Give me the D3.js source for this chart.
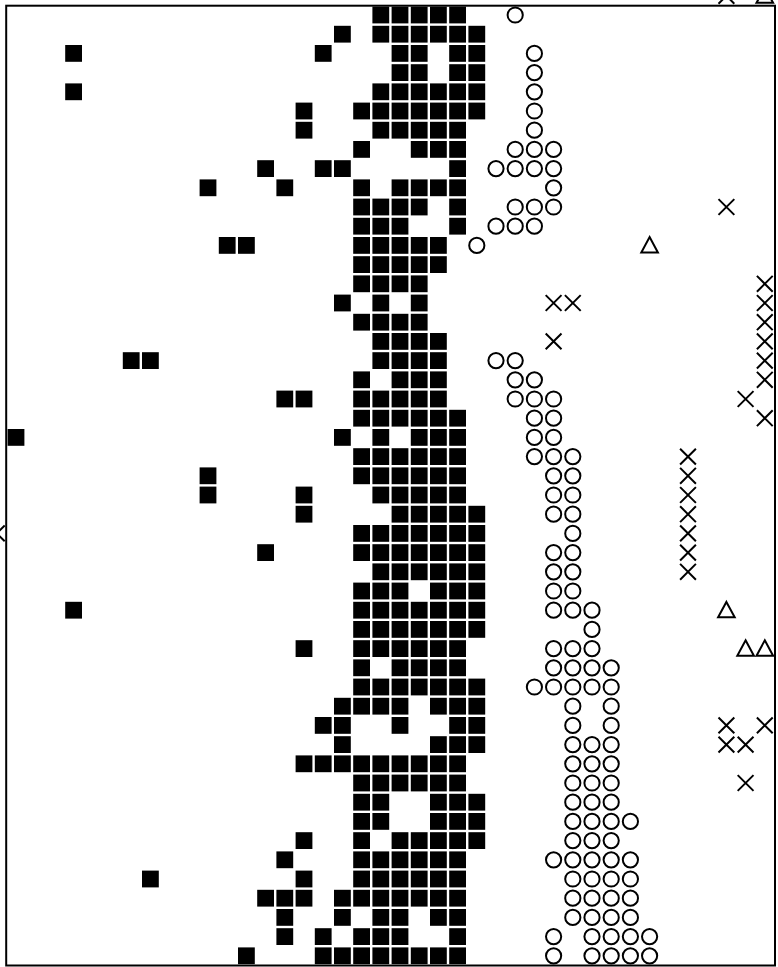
<!DOCTYPE html>
<html>
<head>
<meta charset="utf-8">
<script src="https://cdn.jsdelivr.net/npm/d3@7"></script>
<style>
  html, body { margin: 0; padding: 0; background: #fff; }
  svg { display: block; }
</style>
</head>
<body>
<div id="chart"></div>
<script>
// Filled squares: column indices for each row (row 0 at the top)
const squareCols = [
    [19, 20, 21, 22, 23],
    [17, 19, 20, 21, 22, 23, 24],
    [3, 16, 20, 21, 23, 24],
    [20, 21, 23, 24],
    [3, 19, 20, 21, 22, 23, 24],
    [15, 18, 19, 20, 21, 22, 23, 24],
    [15, 19, 20, 21, 22, 23],
    [18, 21, 22, 23],
    [13, 16, 17, 23],
    [10, 14, 18, 20, 21, 22, 23],
    [18, 19, 20, 21, 23],
    [18, 19, 20, 23],
    [11, 12, 18, 19, 20, 21, 22],
    [18, 19, 20, 21, 22],
    [18, 19, 20, 21],
    [17, 19, 21],
    [18, 19, 20, 21],
    [19, 20, 21, 22],
    [6, 7, 19, 20, 21, 22],
    [18, 20, 21, 22],
    [14, 15, 18, 19, 20, 21, 22],
    [18, 19, 20, 21, 22, 23],
    [0, 17, 19, 21, 22, 23],
    [18, 19, 20, 21, 22, 23],
    [10, 18, 19, 20, 21, 22, 23],
    [10, 15, 19, 20, 21, 22, 23],
    [15, 20, 21, 22, 23, 24],
    [18, 19, 20, 21, 22, 23, 24],
    [13, 18, 19, 20, 21, 22, 23, 24],
    [19, 20, 21, 22, 23, 24],
    [18, 19, 20, 22, 23, 24],
    [3, 18, 19, 20, 21, 22, 23, 24],
    [18, 19, 20, 21, 22, 23, 24],
    [15, 18, 19, 20, 21, 22, 23],
    [18, 20, 21, 22, 23],
    [18, 19, 20, 21, 22, 23, 24],
    [17, 18, 19, 20, 22, 23, 24],
    [16, 17, 20, 23, 24],
    [17, 22, 23, 24],
    [15, 16, 17, 18, 19, 20, 21, 22, 23],
    [18, 19, 20, 21, 22, 23],
    [18, 19, 22, 23, 24],
    [18, 19, 22, 23, 24],
    [15, 18, 20, 21, 22, 23, 24],
    [14, 18, 19, 20, 21, 22, 23],
    [7, 15, 18, 19, 20, 21, 22, 23],
    [13, 14, 15, 17, 18, 19, 20, 21, 22, 23],
    [14, 17, 19, 20, 22, 23],
    [14, 16, 18, 19, 20, 23],
    [12, 16, 17, 18, 19, 20, 21, 22, 23]
];

// Open circles: column indices for each row
const circleCols = [
    [26], [], [27], [27], [27], [27], [27],
    [26, 27, 28],
    [25, 26, 27, 28],
    [28],
    [26, 27, 28],
    [25, 26, 27],
    [24],
    [], [], [], [], [],
    [25, 26],
    [26, 27],
    [26, 27, 28],
    [27, 28],
    [27, 28],
    [27, 28, 29],
    [28, 29],
    [28, 29],
    [28, 29],
    [29],
    [28, 29],
    [28, 29],
    [28, 29],
    [28, 29, 30],
    [30],
    [28, 29, 30],
    [28, 29, 30, 31],
    [27, 28, 29, 30, 31],
    [29, 31],
    [29, 31],
    [29, 30, 31],
    [29, 30, 31],
    [29, 30, 31],
    [29, 30, 31],
    [29, 30, 31, 32],
    [29, 30, 31],
    [28, 29, 30, 31, 32],
    [29, 30, 31, 32],
    [29, 30, 31, 32],
    [29, 30, 31, 32],
    [28, 30, 31, 32, 33],
    [28, 30, 31, 32, 33]
];

// Crosses and triangles are sparse: [column, row]
const crossCells = [
    [37, -1], [37, 10], [39, 14], [28, 15], [29, 15], [39, 15], [39, 16],
    [28, 17], [39, 17], [39, 18], [39, 19], [38, 20], [39, 21],
    [35, 23], [35, 24], [35, 25], [35, 26], [35, 27], [-1, 27], [35, 28], [35, 29],
    [37, 37], [39, 37], [37, 38], [38, 38], [38, 40]
];
const triangleCells = [[39, -1], [33, 12], [37, 31], [38, 33], [39, 33]];

const width = 778;
const height = 967;

// Grid position scales (column / row index -> pixel)
const x = d3.scaleLinear().domain([0, 39]).range([16, 764.8]);
const y = d3.scaleLinear().domain([0, 49]).range([15, 955.8]);

const squareSide = 16.8;
const markStroke = 2;

// flatten per-row lists into cells
const squares = squareCols.flatMap((cols, r) => cols.map(c => [c, r]));
const circles = circleCols.flatMap((cols, r) => cols.map(c => [c, r]));

// custom symbol types for d3.symbol (size = half extent)
const symbolXMark = {
    draw(ctx, h) {
        ctx.moveTo(-h, -h); ctx.lineTo(h, h);
        ctx.moveTo(-h, h); ctx.lineTo(h, -h);
    }
};
const symbolOpenTriangle = {
    draw(ctx, h) {
        ctx.moveTo(0, -h);
        ctx.lineTo(h, h * 0.85);
        ctx.lineTo(-h, h * 0.85);
        ctx.closePath();
    }
};

const svg = d3.select("#chart").append("svg")
    .attr("width", width)
    .attr("height", height)
    .attr("viewBox", `0 0 ${width} ${height}`);

svg.append("rect")
    .attr("width", width)
    .attr("height", height)
    .attr("fill", "#fff");

// frame
svg.append("rect")
    .attr("x", 6.2)
    .attr("y", 5.7)
    .attr("width", 775 - 6.2)
    .attr("height", 965.5 - 5.7)
    .attr("fill", "none")
    .attr("stroke", "#000")
    .attr("stroke-width", 2);

svg.append("g")
    .selectAll("rect")
    .data(squares)
    .join("rect")
    .attr("x", d => x(d[0]) - squareSide / 2)
    .attr("y", d => y(d[1]) - squareSide / 2)
    .attr("width", squareSide)
    .attr("height", squareSide)
    .attr("fill", "#000");

svg.append("g")
    .selectAll("circle")
    .data(circles)
    .join("circle")
    .attr("cx", d => x(d[0]))
    .attr("cy", d => y(d[1]))
    .attr("r", 7.6)
    .attr("fill", "none")
    .attr("stroke", "#000")
    .attr("stroke-width", markStroke);

svg.append("g")
    .selectAll("path")
    .data(crossCells)
    .join("path")
    .attr("transform", d => `translate(${x(d[0])},${y(d[1])})`)
    .attr("d", d3.symbol().type(symbolXMark).size(7.9))
    .attr("fill", "none")
    .attr("stroke", "#000")
    .attr("stroke-width", markStroke);

svg.append("g")
    .selectAll("path")
    .data(triangleCells)
    .join("path")
    .attr("transform", d => `translate(${x(d[0])},${y(d[1])})`)
    .attr("d", d3.symbol().type(symbolOpenTriangle).size(8.3))
    .attr("fill", "none")
    .attr("stroke", "#000")
    .attr("stroke-width", markStroke);
</script>
</body>
</html>
